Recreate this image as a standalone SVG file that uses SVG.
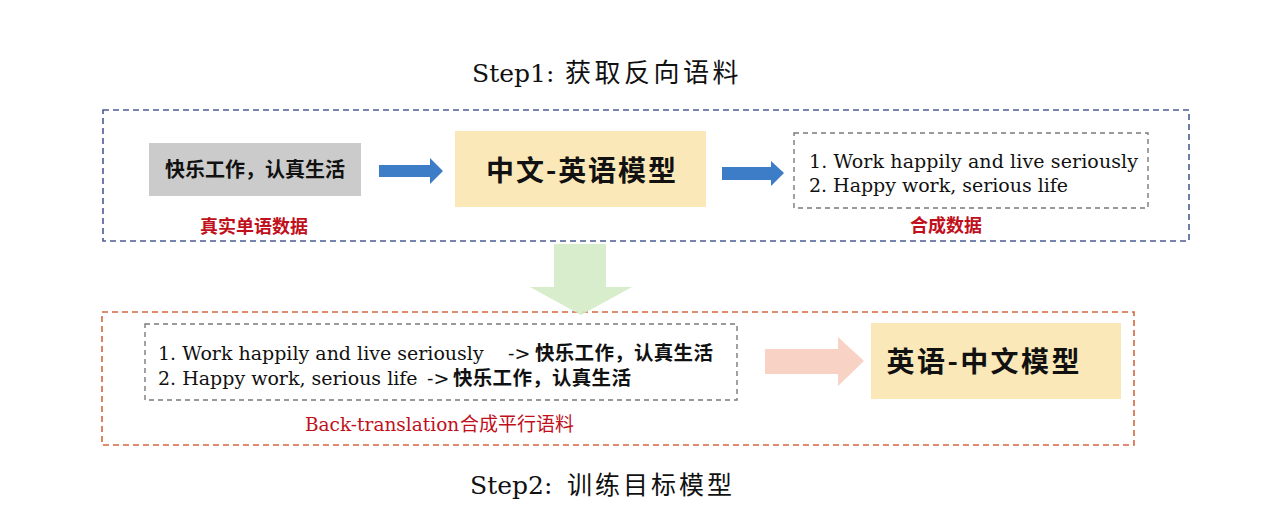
<svg xmlns="http://www.w3.org/2000/svg" width="1266" height="530" viewBox="0 0 1266 530">
<style>
.serif{font-family:"DejaVu Serif","Noto Sans CJK SC",serif;fill:#111}
.cjk{font-family:"Noto Sans CJK SC",sans-serif;fill:#111}
.cjkb{font-family:"Noto Sans CJK SC",sans-serif;font-weight:bold;fill:#111}
.red{fill:#c0101c}
.frame-blue{fill:none;stroke:#4b5c96;stroke-width:1.6;stroke-dasharray:6 4}
.frame-orange{fill:none;stroke:#d8653f;stroke-width:1.6;stroke-dasharray:6 4}
.frame-gray{fill:none;stroke:#7a7a7a;stroke-width:1.4;stroke-dasharray:5 4}
.model{fill:#fbe8b8}
</style>
<rect width="1266" height="530" fill="#ffffff"/>

<g id="title1">
<text y="82" class="serif" font-size="25"><tspan x="472">Step1:</tspan> <tspan x="565" class="cjk" font-size="26" letter-spacing="3.5">获取反向语料</tspan></text>
</g>

<g id="step1-frame">
<rect x="103" y="110" width="1086" height="131" class="frame-blue"/>
</g>

<g id="step2-frame">
<rect x="102" y="312" width="1032" height="133" class="frame-orange"/>
</g>

<g id="connectors">
<path d="M379,165 H430 V158 L443,171 L430,184 V177 H379 Z" fill="#3d7cc6"/>
<path d="M722,167 H771 V161 L784,173 L771,186 V180 H722 Z" fill="#3d7cc6"/>
<path d="M554,244 H606 V287 H632 L581,315 L530,287 H554 Z" fill="#d3ebc6" fill-opacity="0.9"/>
<path d="M765,349 H838 V337 L864,361 L838,386 V374 H765 Z" fill="#f8d3c5"/>
</g>

<g id="real-data">
<rect x="149" y="143" width="212" height="53" fill="#cbcbcb"/>
<text x="255" y="177" class="cjkb" font-size="20" text-anchor="middle">快乐工作，认真生活</text>
<text x="254" y="233" class="cjkb red" font-size="18" text-anchor="middle">真实单语数据</text>
</g>

<g id="zh-en-model">
<rect x="455" y="131" width="251" height="76" class="model"/>
<text x="581" y="181" class="cjkb" font-size="28" text-anchor="middle" textLength="190">中文-英语模型</text>
</g>

<g id="synthetic-data">
<rect x="794" y="133" width="354" height="75" class="frame-gray"/>
<text x="809" y="168" class="serif" font-size="19" textLength="329">1. Work happily and live seriously</text>
<text x="809" y="192" class="serif" font-size="19" textLength="259">2. Happy work, serious life</text>
<text x="946" y="232" class="cjkb red" font-size="18" text-anchor="middle">合成数据</text>
</g>

<g id="parallel-corpus">
<rect x="145" y="324" width="592" height="76" class="frame-gray"/>
<text y="360" class="serif" font-size="19"><tspan x="158">1. Work happily and live seriously</tspan>   <tspan x="508">-&gt;</tspan> <tspan x="535" class="cjkb" font-size="19.5" letter-spacing="0.3">快乐工作，认真生活</tspan></text>
<text y="385" class="serif" font-size="19"><tspan x="158">2. Happy work, serious life</tspan> <tspan x="427">-&gt;</tspan> <tspan x="453" class="cjkb" font-size="19.5" letter-spacing="0.3">快乐工作，认真生活</tspan></text>
<text y="431" class="serif red" font-size="18.5"><tspan x="305">Back-translation</tspan><tspan x="460" class="cjk red" font-size="19">合成平行语料</tspan></text>
</g>

<g id="en-zh-model">
<rect x="871" y="323" width="250" height="76" class="model"/>
<text x="983" y="372" class="cjkb" font-size="28" text-anchor="middle" textLength="193">英语-中文模型</text>
</g>

<g id="title2">
<text y="494" class="serif" font-size="25"><tspan x="470">Step2:</tspan> <tspan x="567" class="cjk" font-size="25" letter-spacing="3">训练目标模型</tspan></text>
</g>
</svg>
